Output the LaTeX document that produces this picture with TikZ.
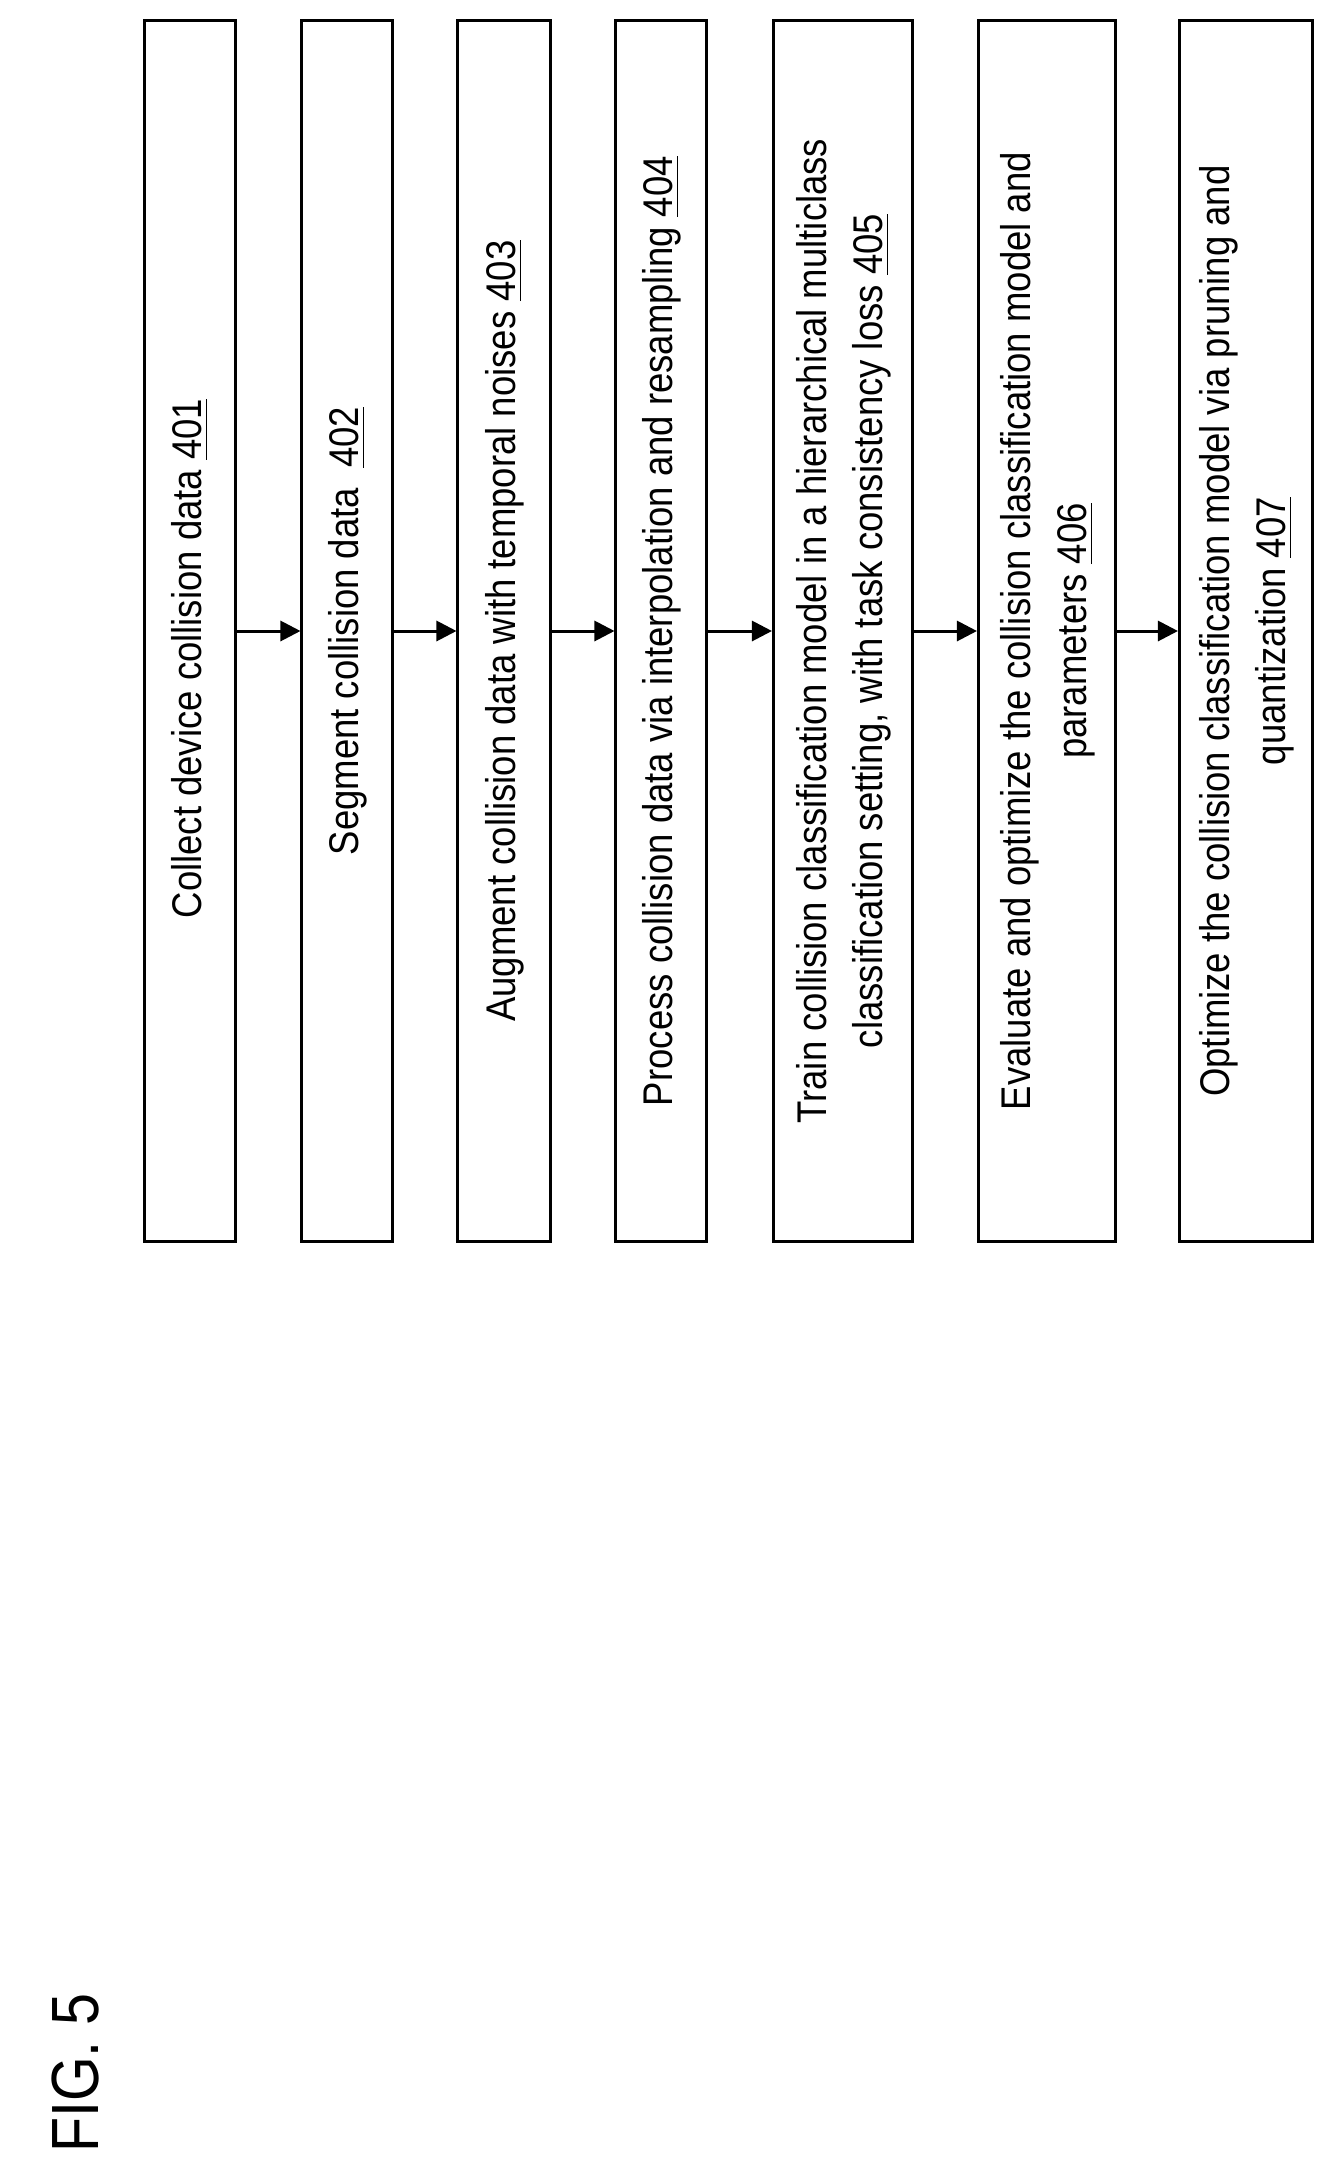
\documentclass[tikz,border=0pt]{standalone}
\usepackage{fontspec}
\setmainfont{Liberation Sans}
\usetikzlibrary{arrows.meta}
\usetikzlibrary{positioning}
\newcommand{\steplbl}[1]{\scalebox{0.88}[1]{\renewcommand{\arraystretch}{1.12}\begin{tabular}{@{}c@{}}#1\end{tabular}}}
\begin{document}
\begin{tikzpicture}[x=0.01cm,y=-0.01cm,
    stepbox/.style={draw,line width=0.85pt,rotate=90,minimum width=12.2cm,inner sep=0pt,
      font=\fontsize{11.8}{14.2}\selectfont},
    flow/.style={line width=0.85pt,-{Triangle[length=2mm,width=2mm]}}
  ]
    \useasboundingbox (0,0) rectangle (1330,2157);
    %STEPS
    \node[stepbox,minimum height=0.90cm] (s1) at (190,631) {\hspace*{-0.55cm}\steplbl{Collect device collision data \underline{401}}};
    \node[stepbox,minimum height=0.90cm] (s2) at (347,631) {\steplbl{Segment collision data\ \ \underline{402}}};
    \node[stepbox,minimum height=0.92cm] (s3) at (504,631) {\steplbl{Augment collision data with temporal noises \underline{403}}};
    \node[stepbox,minimum height=0.90cm] (s4) at (661,631) {\steplbl{Process collision data via interpolation and resampling \underline{404}}};
    \node[stepbox,minimum height=1.39cm] (s5) at (843,631) {\steplbl{Train collision classification model in a hierarchical multiclass\\classification setting, with task consistency loss \underline{405}}};
    \node[stepbox,minimum height=1.37cm] (s6) at (1047,631) {\steplbl{Evaluate and optimize the collision classification model and\\parameters \underline{406}}};
    \node[stepbox,minimum height=1.33cm] (s7) at (1246,631) {\steplbl{Optimize the collision classification model via pruning and\\quantization \underline{407}}};
    %ARROWS
    \foreach \a/\b in {s1/s2,s2/s3,s3/s4,s4/s5,s5/s6,s6/s7} {
      \draw[flow] (\a.south) -- (\b.north);
    }
    %FIGURE LABEL
    \node[rotate=90,font=\fontsize{19}{22}\selectfont] (fig) at (75,2073) {\scalebox{0.86}[1]{FIG. 5}};
\end{tikzpicture}
\end{document}
